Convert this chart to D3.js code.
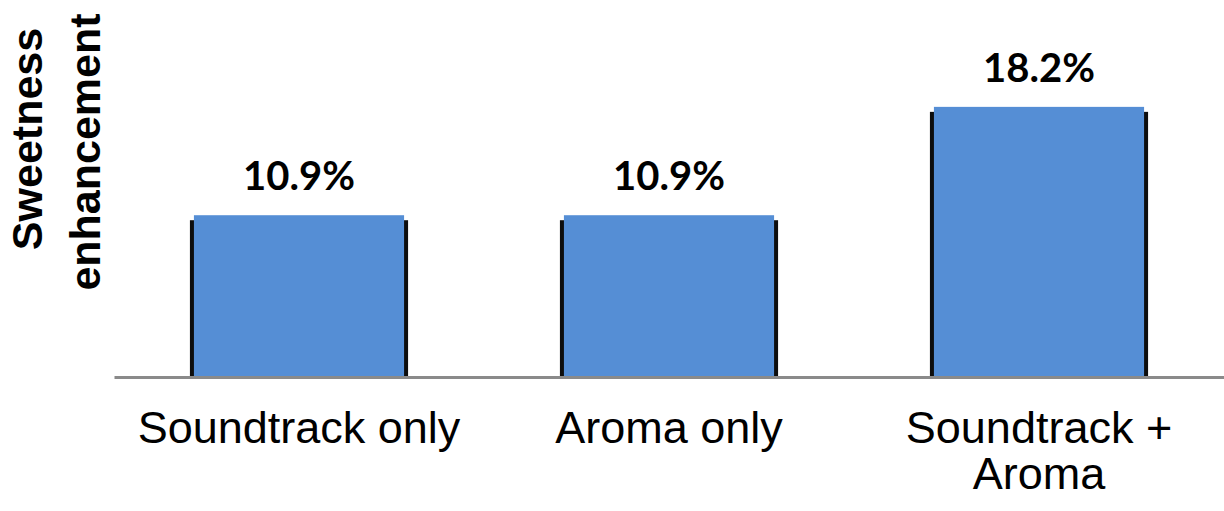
<!DOCTYPE html>
<html>
<head>
<meta charset="utf-8">
<script src="https://cdn.jsdelivr.net/npm/d3@7"></script>
<style>
  body { margin: 0; background: #fff; }
  svg { display: block; }
</style>
</head>
<body>
<svg width="1224" height="511"></svg>
<script>
// data
var categories = ["Soundtrack only", "Aroma only", "Soundtrack + Aroma"];
var categoryLines = [["Soundtrack only"], ["Aroma only"], ["Soundtrack +", "Aroma"]];
var values = [10.9, 10.9, 18.2];
var valueLabels = ["10.9%", "10.9%", "18.2%"];
var titleLines = ["Sweetness", "enhancement"];

var svg = d3.select("svg");
var baseline = 377;

var x = d3.scaleBand()
  .domain(categories)
  .range([114, 1224])
  .paddingInner(0.432)
  .paddingOuter(0.216);

var y = d3.scaleLinear()
  .domain([0, 25.4])
  .range([baseline, 0]);

var data = categories.map(function(c, i) {
  return { cat: c, value: values[i], label: valueLabels[i], lines: categoryLines[i] };
});

// shadow behind each bar (black edges)
svg.selectAll(".shadow")
  .data(data)
  .enter()
  .append("rect")
  .attr("class", "shadow")
  .attr("x", function(d) { return x(d.cat) - 4; })
  .attr("y", function(d) { return y(d.value) + 5; })
  .attr("width", x.bandwidth() + 8)
  .attr("height", function(d) { return baseline - y(d.value) - 5; })
  .attr("fill", "#0d0d0d");

svg.selectAll(".bar")
  .data(data)
  .enter()
  .append("rect")
  .attr("class", "bar")
  .attr("x", function(d) { return x(d.cat); })
  .attr("y", function(d) { return y(d.value); })
  .attr("width", x.bandwidth())
  .attr("height", function(d) { return baseline - y(d.value); })
  .attr("fill", "#558ed5");

// axis line
var axis = svg.append("g")
  .attr("transform", "translate(0," + baseline + ")")
  .call(d3.axisBottom(x).tickSize(0).tickFormat(""));
axis.select(".domain")
  .attr("stroke", "#8a8a8a")
  .attr("stroke-width", 3);

// value labels
svg.selectAll(".val")
  .data(data)
  .enter()
  .append("text")
  .attr("class", "val")
  .attr("x", function(d) { return x(d.cat) + x.bandwidth() / 2; })
  .attr("y", function(d) { return y(d.value) - 25; })
  .attr("text-anchor", "middle")
  .attr("font-family", "Lato, 'Open Sans', sans-serif")
  .attr("font-weight", "bold")
  .attr("font-size", 40)
  .attr("fill", "#000")
  .text(function(d) { return d.label; });

// category labels, one text per line
data.forEach(function(d) {
  d.lines.forEach(function(l, i) {
    svg.append("text")
      .attr("class", "cat")
      .attr("x", x(d.cat) + x.bandwidth() / 2)
      .attr("y", 443 + i * 46)
      .attr("text-anchor", "middle")
      .attr("font-family", "'Liberation Sans', Arial, sans-serif")
      .attr("font-size", 45)
      .attr("fill", "#000")
      .text(l);
  });
});

// y axis title
var titleX = [42, 100];
var titleY = [139, 152];
titleLines.forEach(function(t, i) {
  svg.append("text")
    .attr("transform", "translate(" + titleX[i] + "," + titleY[i] + ") rotate(-90)")
    .attr("text-anchor", "middle")
    .attr("font-family", "'Liberation Sans', Arial, sans-serif")
    .attr("font-weight", "bold")
    .attr("font-size", 43)
    .attr("fill", "#000")
    .text(t);
});
</script>
</body>
</html>
